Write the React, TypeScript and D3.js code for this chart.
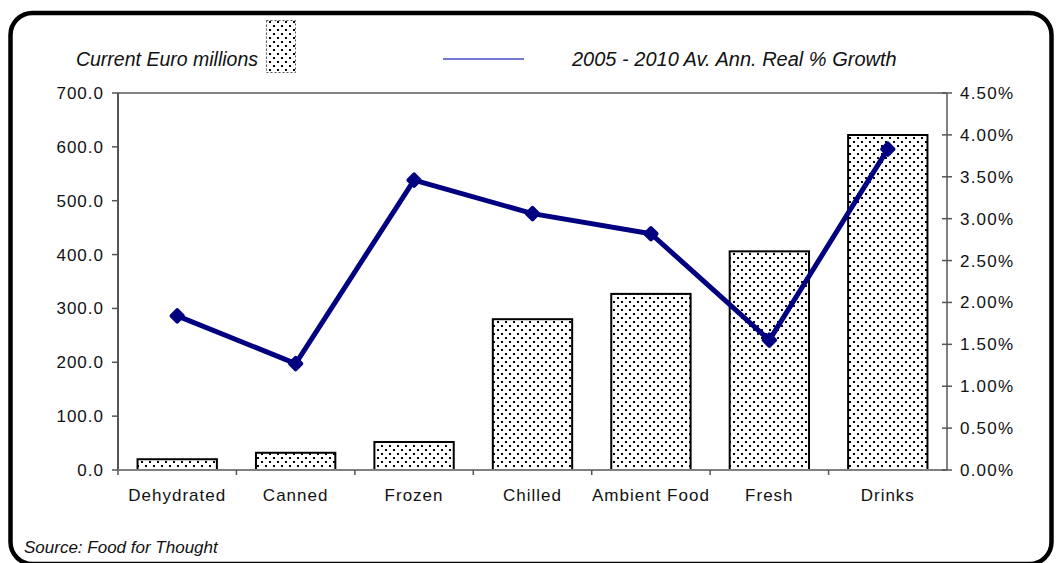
import React from "react";
import * as d3 from "d3";

const categories = ["Dehydrated", "Canned", "Frozen", "Chilled", "Ambient Food", "Fresh", "Drinks"];
const valuesEuro = [20, 32, 52, 280, 327, 406, 622];
const growthPct = [1.84, 1.27, 3.46, 3.06, 2.82, 1.55, 3.83];
const leftTicks = [0, 100, 200, 300, 400, 500, 600, 700];
const rightTicks = [0, 0.5, 1, 1.5, 2, 2.5, 3, 3.5, 4, 4.5];

const W = 1058, H = 563;
const m = { left: 118, right: 947, top: 93, bottom: 470 };

export default function App() {
  const x = d3.scaleBand<string>().domain(categories).range([m.left, m.right]).paddingInner(0.33).paddingOuter(0.165);
  const xOuter = d3.scaleBand<string>().domain(categories).range([m.left, m.right]);
  const yL = d3.scaleLinear().domain([0, 700]).range([m.bottom, m.top]);
  const yR = d3.scaleLinear().domain([0, 4.5]).range([m.bottom, m.top]);
  const line = d3.line<number>()
    .x((_, i) => (xOuter(categories[i]) as number) + xOuter.bandwidth() / 2)
    .y((d) => yR(d));
  const font = "'Liberation Sans', Arial, sans-serif";
  const axisColor = "#808080";
  return (
    <svg width={W} height={H} style={{ position: "absolute", left: 0, top: 0 }} fontFamily={font}>
      <defs>
        <pattern id="dots" width="8" height="8" patternUnits="userSpaceOnUse">
          <rect width="8" height="8" fill="#fff" />
          <rect x="1" y="1" width="2" height="2" fill="#000" />
          <rect x="5" y="5" width="2" height="2" fill="#000" />
        </pattern>
      </defs>
      <rect x={0} y={0} width={W} height={H} fill="#fff" />
      <rect x={10.5} y={13} width={1041} height={551} rx={22} ry={22} fill="none" stroke="#000" strokeWidth={4.5} />
      {/* legend */}
      <text x={258} y={66} textAnchor="end" fontStyle="italic" fontSize={19.5} fill="#111">Current Euro millions</text>
      <rect x={266.5} y={20.5} width={29} height={52} fill="url(#dots)" stroke="#555" strokeWidth={1} strokeDasharray="2,2" />
      <line x1={443} x2={524} y1={59} y2={59} stroke="#4848c8" strokeWidth={1.5} />
      <text x={572} y={66} fontStyle="italic" fontSize={20} fill="#111">2005 - 2010 Av. Ann. Real % Growth</text>
      {/* plot frame */}
      <line x1={m.left} x2={m.right} y1={m.top} y2={m.top} stroke={axisColor} strokeWidth={2} />
      {/* bars */}
      {categories.map((c, i) => (
        <rect key={c} x={x(c)} y={yL(valuesEuro[i])} width={x.bandwidth()} height={m.bottom - yL(valuesEuro[i])}
          fill="url(#dots)" stroke="#000" strokeWidth={2} />
      ))}
      {/* axes */}
      <line x1={m.left} x2={m.left} y1={m.top} y2={m.bottom} stroke="#555" strokeWidth={2} />
      <line x1={m.right} x2={m.right} y1={m.top} y2={m.bottom} stroke={axisColor} strokeWidth={2} />
      <line x1={m.left} x2={m.right} y1={m.bottom} y2={m.bottom} stroke={axisColor} strokeWidth={2} />
      {leftTicks.map((t) => (
        <g key={t}>
          <line x1={m.left - 6} x2={m.left} y1={yL(t)} y2={yL(t)} stroke="#555" strokeWidth={1.5} />
          <text x={104} y={yL(t) + 6} textAnchor="end" fontSize={17} letterSpacing={1} fill="#111">{t.toFixed(1)}</text>
        </g>
      ))}
      {rightTicks.map((t) => (
        <g key={t}>
          <line x1={m.right - 5} x2={m.right + 5} y1={yR(t)} y2={yR(t)} stroke="#555" strokeWidth={1.5} />
          <text x={960} y={yR(t) + 6} fontSize={17} letterSpacing={1.2} fill="#111">{t.toFixed(2)}%</text>
        </g>
      ))}
      {categories.map((c, i) => (
        <g key={c}>
          <line x1={xOuter(c)} x2={xOuter(c)} y1={m.bottom} y2={m.bottom + 5} stroke="#555" strokeWidth={1.5} />
          <text x={(xOuter(c) as number) + xOuter.bandwidth() / 2} y={501} textAnchor="middle" fontSize={17} letterSpacing={1} fill="#111">{c}</text>
        </g>
      ))}
      {/* line series */}
      <path d={line(growthPct) || ""} fill="none" stroke="#000080" strokeWidth={5} strokeLinejoin="round" />
      {growthPct.map((g, i) => {
        const cx = (xOuter(categories[i]) as number) + xOuter.bandwidth() / 2;
        const cy = yR(g);
        return <rect key={i} x={cx - 6} y={cy - 6} width={12} height={12} rx={2} fill="#000080" transform={`rotate(45 ${cx} ${cy})`} />;
      })}
      <text x={24} y={553} fontStyle="italic" fontSize={17} fill="#111">Source: Food for Thought</text>
    </svg>
  );
}
